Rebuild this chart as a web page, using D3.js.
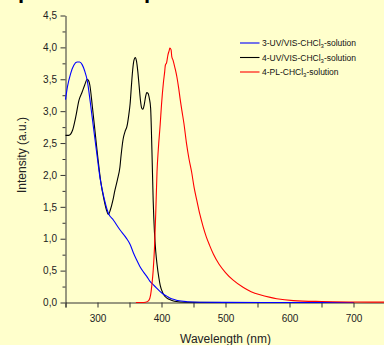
<!DOCTYPE html>
<html>
<head>
<meta charset="utf-8">
<script src="https://cdn.jsdelivr.net/npm/d3@7"></script>
<style>
  html, body { margin: 0; padding: 0; background: #FFFFCC; }
  svg { display: block; }
  text { font-family: "Liberation Sans", Arial, sans-serif; }
</style>
</head>
<body>
<svg id="chart" width="384" height="345"></svg>
<script>
// ---- data ----
const blueWl  = [250,253,258,263,268,272,276,280,284,289,294,300,304,310,317,325,335,345,351,356,361,366,371,377,382,387,392,398,403,408,413,419,425,440,460,500,560,700];
const blueVal = [3.18,3.38,3.59,3.72,3.77,3.77,3.73,3.63,3.48,3.12,2.72,2.25,1.95,1.65,1.40,1.29,1.14,1.01,0.91,0.78,0.67,0.57,0.49,0.41,0.33,0.28,0.23,0.17,0.13,0.10,0.07,0.05,0.03,0.012,0.005,0.002,0.0,0.0];

const blackWl  = [250,255,258,261,266,271,276,280,284,286,288,292,297,301,305,310,314,317,320,324,327,331,335,337,340,343,346,349,351,353,355,357,359,361,363,365,367,369,371,373,375,377,379,381,383,385,387,389,391,393,396,398,402,406,412,420,440,500,700];
const blackVal = [2.62,2.62,2.64,2.70,2.91,3.17,3.30,3.41,3.50,3.48,3.41,3.07,2.60,2.23,1.90,1.62,1.45,1.38,1.45,1.60,1.75,1.92,2.12,2.32,2.56,2.68,2.76,2.95,3.12,3.40,3.65,3.80,3.84,3.78,3.62,3.40,3.18,3.05,3.03,3.10,3.22,3.29,3.28,3.20,3.05,2.40,1.60,1.10,0.80,0.60,0.38,0.27,0.15,0.09,0.05,0.02,0.005,0.0,0.0];

const redWl  = [360,370,375,380,383,385,387,389,391,393,395,398,400,403,405,406,408,410,412,413,415,416,418,421,424,427,429,432,435,439,443,447,451,455,460,465,470,475,481,490,500,512,528,540,554,570,580,606,650,700,750];
const redVal = [0.0,0.0,0.005,0.03,0.12,0.28,0.5,0.85,1.4,2.05,2.4,2.8,3.1,3.45,3.62,3.72,3.76,3.88,3.95,3.99,3.96,3.86,3.80,3.68,3.54,3.35,3.20,3.00,2.81,2.50,2.25,2.05,1.80,1.61,1.38,1.19,1.03,0.90,0.76,0.60,0.47,0.35,0.235,0.17,0.12,0.08,0.06,0.03,0.015,0.008,0.005];

const seriesNames  = ["3-UV/VIS-CHCl", "4-UV/VIS-CHCl", "4-PL-CHCl"];
const seriesColors = ["#0000FF", "#000000", "#FF0000"];

const xTicks = [250,300,350,400,450,500,550,600,650,700,750];
const xLabels = [300,400,500,600,700];
const yTicks = d3.range(0, 4.5001, 0.25);

// ---- drawing ----
const svg = d3.select("#chart");
const W = 384, H = 345;
svg.append("rect").attr("width", W).attr("height", H).attr("fill", "#FFFFCC");

const x = d3.scaleLinear().domain([250, 750]).range([65.5, 385.5]);
const y = d3.scaleLinear().domain([0, 4.5]).range([302.5, 15.5]);

// cut-off title fragments at the top (the reference shows only their descenders)
svg.append("text").attr("x", 18).attr("y", -2).attr("font-family", "Liberation Serif, Times New Roman, serif")
  .attr("font-weight", "bold").attr("font-size", 22).attr("fill", "#000").text("p");
svg.append("text").attr("x", 144).attr("y", -2).attr("font-family", "Liberation Serif, Times New Roman, serif")
  .attr("font-weight", "bold").attr("font-size", 22).attr("fill", "#000").text("p");

const axisColor = "#333";

// x axis
const xAxis = d3.axisBottom(x).tickValues(xTicks).tickSize(5).tickPadding(7)
  .tickFormat(d => xLabels.includes(d) ? d : "");
const gx = svg.append("g").attr("transform", `translate(0,${y(0)})`).call(xAxis);
gx.select(".domain").attr("stroke", axisColor);
gx.selectAll(".tick line").attr("stroke", axisColor);
gx.selectAll("text").attr("font-size", 10).attr("fill", "#222").attr("font-family", "Liberation Sans, Arial, sans-serif");

// y axis
const fmt = d => (Math.abs(d * 2 - Math.round(d * 2)) < 1e-6) ? d3.format(".1f")(d).replace(".", ",") : "";
const yAxis = d3.axisLeft(y).tickValues(yTicks).tickSize(5).tickPadding(3.5).tickFormat(fmt).tickSizeOuter(0);
const gy = svg.append("g").attr("transform", `translate(${x(250)},0)`).call(yAxis);
gy.select(".domain").attr("stroke", axisColor);
gy.selectAll(".tick line").attr("stroke", axisColor).attr("x2", d => fmt(d) ? -5 : -3);
gy.selectAll("text").attr("font-size", 10).attr("fill", "#222").attr("font-family", "Liberation Sans, Arial, sans-serif");

// axis titles
svg.append("text").attr("x", x(500)).attr("y", 343).attr("text-anchor", "middle")
  .attr("font-size", 12).attr("fill", "#222").text("Wavelength (nm)");
svg.append("text").attr("transform", `translate(26,155) rotate(-90)`).attr("text-anchor", "middle")
  .attr("font-size", 12).attr("fill", "#222").text("Intensity (a.u.)");

// lines
const line = d3.line().x(d => x(d[0])).y(d => y(d[1])).curve(d3.curveMonotoneX);
const mk = (wl, v) => wl.map((w, i) => [w, v[i]]);
const series = [
  { data: mk(blackWl, blackVal), color: seriesColors[1] },
  { data: mk(blueWl, blueVal), color: seriesColors[0] },
  { data: mk(redWl, redVal), color: seriesColors[2] }
];
series.forEach(s => {
  svg.append("path").attr("d", line(s.data)).attr("fill", "none")
    .attr("stroke", s.color).attr("stroke-width", 1.1);
});

// legend
const legY = [43, 57.5, 72];
seriesNames.forEach((name, i) => {
  svg.append("line").attr("x1", 240).attr("x2", 259.5).attr("y1", legY[i]).attr("y2", legY[i])
    .attr("stroke", seriesColors[i]).attr("stroke-width", 1.1);
  const t = svg.append("text").attr("x", 262).attr("y", legY[i] + 3).attr("font-size", 8.5)
    .attr("fill", "#111");
  t.append("tspan").text(name);
  t.append("tspan").attr("font-size", 6).attr("dy", 2).text("3");
  t.append("tspan").attr("dy", -2).text("-solution");
});
</script>
</body>
</html>
